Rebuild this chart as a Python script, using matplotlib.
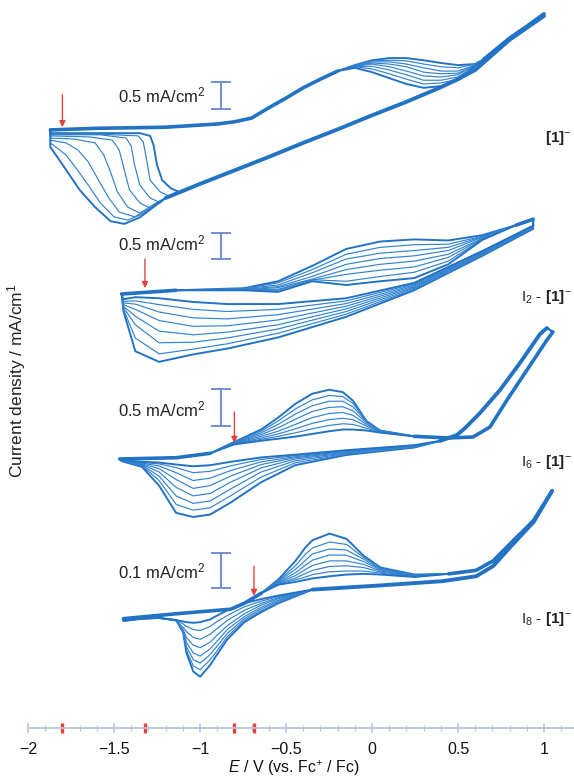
import numpy as np
import matplotlib
matplotlib.use('Agg')
import matplotlib.pyplot as plt

plt.rcParams['font.family'] = ['Liberation Sans', 'DejaVu Sans']
plt.rcParams['mathtext.fontset'] = 'custom'
plt.rcParams['mathtext.rm'] = 'Liberation Sans'
plt.rcParams['mathtext.it'] = 'Liberation Sans:italic'
plt.rcParams['mathtext.bf'] = 'Liberation Sans:bold'

# ---------------- [1]-  (mA/cm2, relative to start of sweep) ----------------
p1_fwd_E = [-1.87, -1.6, -1.2, -0.9, -0.8, -0.7, -0.6, -0.5, -0.4, -0.3, -0.2, 0.65, 0.7, 0.8, 0.9, 1.0]
p1_fwd_j = [0.02, 0.05, 0.07, 0.13, 0.17, 0.24, 0.43, 0.61, 0.80, 0.96, 1.11, 1.33, 1.46, 1.72, 1.94, 2.17]
p1_hump_E = [-0.1, 0.0, 0.1, 0.2, 0.3, 0.4, 0.5, 0.6]
p1_hump_j = [
    [1.22, 1.31, 1.35, 1.35, 1.31, 1.26, 1.22, 1.24],
    [1.22, 1.30, 1.31, 1.30, 1.24, 1.19, 1.17, 1.24],
    [1.20, 1.28, 1.28, 1.24, 1.17, 1.11, 1.11, 1.22],
    [1.20, 1.26, 1.24, 1.19, 1.09, 1.06, 1.07, 1.22],
    [1.20, 1.24, 1.19, 1.11, 1.02, 1.00, 1.04, 1.22],
    [1.19, 1.20, 1.13, 1.04, 0.94, 0.94, 1.00, 1.20],
    [1.19, 1.15, 1.06, 0.96, 0.87, 0.89, 0.96, 1.20],
    [1.17, 1.09, 0.98, 0.87, 0.80, 0.83, 0.94, 1.20],
]
p1_rev_E = [1.0, 0.9, 0.8, 0.7, 0.6, 0.5, 0.4, 0.2, 0.0, -0.2, -0.4, -0.6, -0.8, -1.0, -1.1, -1.2]
p1_rev_j = [2.13, 1.91, 1.69, 1.41, 1.13, 0.96, 0.81, 0.54, 0.29, 0.03, -0.22, -0.48, -0.73, -0.98, -1.11, -1.24]
p1_tail_E = [
    [-1.12, -1.17, -1.22, -1.25, -1.27, -1.29, -1.35, -1.58, -1.87],
    [-1.17, -1.23, -1.29, -1.31, -1.33, -1.36, -1.58, -1.87],
    [-1.23, -1.29, -1.35, -1.38, -1.40, -1.43, -1.58, -1.87],
    [-1.25, -1.29, -1.35, -1.41, -1.44, -1.47, -1.51, -1.64, -1.87],
    [-1.28, -1.35, -1.42, -1.48, -1.52, -1.56, -1.61, -1.73, -1.87],
    [-1.30, -1.38, -1.47, -1.53, -1.59, -1.65, -1.71, -1.78, -1.87],
    [-1.33, -1.42, -1.50, -1.58, -1.65, -1.72, -1.78, -1.87],
    [-1.35, -1.44, -1.52, -1.61, -1.70, -1.77, -1.83, -1.87],
]
p1_tail_j = [
    [-1.13, -1.06, -0.91, -0.63, -0.26, -0.09, -0.04, -0.04, -0.04],
    [-1.22, -1.13, -0.91, -0.54, -0.20, -0.09, -0.06, -0.06],
    [-1.33, -1.24, -1.00, -0.63, -0.28, -0.13, -0.07, -0.07],
    [-1.32, -1.43, -1.33, -1.09, -0.72, -0.35, -0.17, -0.11, -0.09],
    [-1.38, -1.52, -1.41, -1.13, -0.76, -0.44, -0.22, -0.15, -0.13],
    [-1.45, -1.59, -1.50, -1.24, -0.91, -0.57, -0.35, -0.22, -0.17],
    [-1.53, -1.65, -1.59, -1.33, -1.00, -0.69, -0.44, -0.22],
    [-1.60, -1.72, -1.67, -1.41, -1.09, -0.76, -0.48, -0.30],
]

# ---------------- I2 - [1]- ----------------
p2_fwd_E = [-1.455, -1.139, 0.838, 0.937]
p2_fwd_j = [0.00, 0.07, 1.30, 1.41]
p2_hump_E = [-0.744, -0.546, -0.348, -0.150, 0.047, 0.245, 0.443, 0.641]
p2_hump_j = [
    [0.11, 0.24, 0.53, 0.85, 0.99, 1.03, 1.01, 1.11],
    [0.10, 0.21, 0.46, 0.75, 0.88, 0.93, 0.94, 1.09],
    [0.10, 0.17, 0.40, 0.66, 0.77, 0.82, 0.88, 1.08],
    [0.09, 0.14, 0.33, 0.56, 0.67, 0.72, 0.82, 1.07],
    [0.08, 0.12, 0.28, 0.46, 0.56, 0.62, 0.75, 1.05],
    [0.08, 0.09, 0.26, 0.37, 0.45, 0.51, 0.69, 1.04],
    [0.07, 0.07, 0.27, 0.24, 0.33, 0.41, 0.62, 1.03],
    [0.07, 0.04, 0.24, 0.17, 0.24, 0.30, 0.56, 1.02],
]
p2_rev_E = []
p2_rev_j = []
p2_tail_E = [0.937, 0.641, 0.245, -0.150, -0.546, -0.842, -1.040, -1.238, -1.376, -1.446]
p2_tail_j = [
    [1.23, 0.72, 0.07, -0.43, -0.82, -1.03, -1.14, -1.28, -1.08, -0.31],
    [1.25, 0.73, 0.09, -0.38, -0.74, -0.94, -1.04, -1.13, -0.83, -0.28],
    [1.25, 0.75, 0.11, -0.33, -0.66, -0.83, -0.91, -0.92, -0.58, -0.25],
    [1.26, 0.76, 0.13, -0.28, -0.58, -0.72, -0.77, -0.70, -0.42, -0.23],
    [1.27, 0.77, 0.15, -0.23, -0.49, -0.60, -0.61, -0.50, -0.29, -0.20],
    [1.27, 0.78, 0.17, -0.18, -0.39, -0.47, -0.45, -0.34, -0.19, -0.17],
    [1.28, 0.80, 0.19, -0.13, -0.29, -0.33, -0.29, -0.20, -0.13, -0.14],
    [1.29, 0.81, 0.21, -0.08, -0.19, -0.19, -0.15, -0.08, -0.06, -0.10],
]

# ---------------- I6 - [1]- ----------------
p3_fwd_E = [-1.466, -1.139, -0.941, 0.245, 0.443, 0.587, 0.686, 0.785, 0.901, 1.017, 1.052]
p3_fwd_j = [0.00, 0.017, 0.076, 0.303, 0.281, 0.294, 0.428, 0.789, 1.190, 1.591, 1.698]
p3_hump_E = [-0.803, -0.645, -0.546, -0.447, -0.348, -0.249, -0.170, -0.111, -0.032, 0.047]
p3_hump_j = [
    [0.226, 0.394, 0.553, 0.735, 0.872, 0.926, 0.894, 0.781, 0.508, 0.381],
    [0.221, 0.371, 0.508, 0.667, 0.790, 0.849, 0.835, 0.744, 0.508, 0.381],
    [0.217, 0.349, 0.462, 0.599, 0.712, 0.772, 0.772, 0.699, 0.499, 0.376],
    [0.212, 0.326, 0.417, 0.531, 0.635, 0.690, 0.699, 0.644, 0.485, 0.371],
    [0.208, 0.303, 0.371, 0.462, 0.553, 0.608, 0.622, 0.585, 0.462, 0.367],
    [0.203, 0.281, 0.335, 0.403, 0.476, 0.526, 0.544, 0.526, 0.440, 0.362],
    [0.199, 0.262, 0.303, 0.349, 0.403, 0.449, 0.471, 0.462, 0.412, 0.358],
    [0.194, 0.244, 0.271, 0.299, 0.335, 0.371, 0.394, 0.394, 0.381, 0.353],
]
p3_rev_E = [1.017, 0.977, 0.860, 0.744, 0.628, 0.541, 0.494, 0.395]
p3_rev_j = [1.751, 1.671, 1.283, 0.922, 0.615, 0.414, 0.321, 0.241]
p3_tail_E = [0.245, -0.151, -0.447, -0.645, -0.823, -0.941, -1.040, -1.139, -1.238, -1.337, -1.456]
p3_tail_j = [
    [0.153, 0.053, -0.083, -0.311, -0.584, -0.743, -0.775, -0.720, -0.356, -0.106, -0.029],
    [0.158, 0.062, -0.051, -0.242, -0.493, -0.652, -0.684, -0.606, -0.288, -0.092, -0.029],
    [0.162, 0.071, -0.024, -0.174, -0.402, -0.561, -0.593, -0.493, -0.229, -0.083, -0.029],
    [0.167, 0.080, -0.001, -0.120, -0.311, -0.461, -0.493, -0.379, -0.174, -0.074, -0.024],
    [0.171, 0.090, 0.017, -0.074, -0.229, -0.356, -0.393, -0.274, -0.129, -0.065, -0.024],
    [0.176, 0.099, 0.030, -0.038, -0.156, -0.256, -0.288, -0.183, -0.092, -0.056, -0.020],
    [0.180, 0.108, 0.044, -0.006, -0.092, -0.165, -0.183, -0.115, -0.065, -0.047, -0.020],
    [0.185, 0.117, 0.058, 0.021, -0.038, -0.083, -0.097, -0.074, -0.047, -0.038, -0.015],
]

# ---------------- I8 - [1]- ----------------
p4_fwd_E = [-1.445, -1.138, -0.821, -0.742, -0.643, 0.446, 0.605, 0.704, 0.803, 0.902, 0.941, 1.047]
p4_fwd_j = [0.001, 0.015, 0.028, 0.045, 0.074, 0.129, 0.139, 0.166, 0.215, 0.263, 0.283, 0.366]
p4_hump_E = [-0.544, -0.445, -0.386, -0.346, -0.247, -0.148, -0.049, 0.050, 0.248]
p4_hump_j = [
    [0.113, 0.166, 0.205, 0.225, 0.244, 0.229, 0.181, 0.147, 0.127],
    [0.110, 0.152, 0.186, 0.203, 0.220, 0.213, 0.176, 0.145, 0.126],
    [0.108, 0.142, 0.168, 0.186, 0.200, 0.197, 0.171, 0.142, 0.125],
    [0.106, 0.132, 0.154, 0.168, 0.183, 0.182, 0.164, 0.140, 0.124],
    [0.104, 0.124, 0.142, 0.153, 0.166, 0.166, 0.156, 0.137, 0.123],
    [0.102, 0.117, 0.130, 0.139, 0.150, 0.152, 0.147, 0.134, 0.122],
    [0.100, 0.112, 0.120, 0.127, 0.135, 0.137, 0.137, 0.131, 0.121],
    [0.098, 0.106, 0.112, 0.116, 0.122, 0.127, 0.129, 0.127, 0.120],
]
p4_rev_E = [1.047, 0.941, 0.803, 0.704, 0.605, 0.407, 0.050, -0.346]
p4_rev_j = [0.366, 0.278, 0.205, 0.151, 0.122, 0.108, 0.096, 0.084]
p4_tail_E = [-0.544, -0.643, -0.742, -0.841, -0.900, -0.940, -0.999, -1.039, -1.079, -1.098,
             -1.138, -1.237, -1.336, -1.445]
p4_tail_j = [
    [0.045, 0.020, -0.009, -0.058, -0.101, -0.131, -0.165, -0.150, -0.097, -0.038, -0.004, 0.003, 0.001, -0.006],
    [0.047, 0.024, -0.004, -0.050, -0.090, -0.116, -0.145, -0.134, -0.089, -0.038, -0.004, 0.003, 0.001, -0.006],
    [0.051, 0.029, 0.001, -0.041, -0.077, -0.101, -0.126, -0.116, -0.079, -0.036, -0.004, 0.003, 0.001, -0.006],
    [0.054, 0.034, 0.007, -0.030, -0.063, -0.085, -0.106, -0.097, -0.067, -0.033, -0.005, 0.003, 0.001, -0.005],
    [0.058, 0.040, 0.015, -0.019, -0.046, -0.066, -0.082, -0.075, -0.053, -0.031, -0.005, 0.003, 0.001, -0.005],
    [0.061, 0.045, 0.025, -0.004, -0.027, -0.043, -0.058, -0.053, -0.036, -0.024, -0.005, 0.003, 0.001, -0.005],
    [0.064, 0.051, 0.035, 0.010, -0.007, -0.021, -0.033, -0.030, -0.021, -0.014, -0.004, 0.003, 0.001, -0.004],
    [0.067, 0.057, 0.045, 0.025, 0.010, -0.001, -0.009, -0.011, -0.009, -0.007, -0.003, 0.003, 0.001, -0.004],
]

# sweep start potentials (red arrows / red marks on the axis)
start_E = [-1.80, -1.32, -0.80, -0.686]
scale_bars = [0.5, 0.5, 0.5, 0.1]
names = [r'$\mathbf{[1]}^{-}$', r'I$_2$ - $\mathbf{[1]}^{-}$',
         r'I$_6$ - $\mathbf{[1]}^{-}$', r'I$_8$ - $\mathbf{[1]}^{-}$']
tick_vals = [-2, -1.5, -1, -0.5, 0, 0.5, 1]
tick_labels = ['\u22122', '\u22121.5', '\u22121', '\u22120.5', '0', '0.5', '1']


def build_cycles(fwd_E, fwd_j, hump_E, hump_j, rev_E, rev_j, tail_E, tail_j):
    fwd_E, fwd_j = np.asarray(fwd_E, float), np.asarray(fwd_j, float)
    rev_E, rev_j = np.asarray(rev_E, float), np.asarray(rev_j, float)
    hE = np.asarray(hump_E, float)
    lo = fwd_E < hE[0]
    hi = fwd_E > hE[-1]
    loops = []
    for k in range(len(hump_j)):
        tE = np.asarray(tail_E[k] if isinstance(tail_E[0], list) else tail_E, float)
        tj = np.asarray(tail_j[k], float)
        keep = rev_E > tE[0]
        E = np.concatenate([fwd_E[lo], hE, fwd_E[hi], rev_E[keep], tE, fwd_E[:1]])
        j = np.concatenate([fwd_j[lo], hump_j[k], fwd_j[hi], rev_j[keep], tj, fwd_j[:1]])
        loops.append((E, j))
    common = (fwd_E[lo], fwd_j[lo], fwd_E[hi], fwd_j[hi])
    return loops, common


panels = [
    build_cycles(p1_fwd_E, p1_fwd_j, p1_hump_E, p1_hump_j, p1_rev_E, p1_rev_j, p1_tail_E, p1_tail_j),
    build_cycles(p2_fwd_E, p2_fwd_j, p2_hump_E, p2_hump_j, p2_rev_E, p2_rev_j, p2_tail_E, p2_tail_j),
    build_cycles(p3_fwd_E, p3_fwd_j, p3_hump_E, p3_hump_j, p3_rev_E, p3_rev_j, p3_tail_E, p3_tail_j),
    build_cycles(p4_fwd_E, p4_fwd_j, p4_hump_E, p4_hump_j, p4_rev_E, p4_rev_j, p4_tail_E, p4_tail_j),
]
common_rev = [(p1_rev_E, p1_rev_j), (p2_rev_E, p2_rev_j), (p3_rev_E, p3_rev_j), (p4_rev_E, p4_rev_j)]

# layout: pixel row of j=0 and pixels per mA/cm2 for each panel
W, H = 574, 781
rows = [131, 294, 459, 619]
px_per_unit = [54, 53, 74.8, 350]
bar_top = [0.90, 1.157, 0.94, 0.189]
text_j = [0.65, 0.962, 0.668, 0.137]
arrow_tip = [0.07, 0.11, 0.214, 0.066]
arrow_tail = [0.67, 0.66, 0.628, 0.151]
name_j = [-0.13, -0.06, -0.04, 0.0]

XLO, XHI = -2 - 28 / 172, 1 + 30 / 172
BLUE = '#2373c4'
THIN = '#3282cf'
BAR = '#6c8fd2'
RED = '#e8413c'

fig = plt.figure(figsize=(W / 100, H / 100), dpi=100)

for i, (loops, common) in enumerate(panels):
    ax = fig.add_axes([0, 0, 1, 1])
    ax.set_xlim(XLO, XHI)
    s, y0 = px_per_unit[i], rows[i]
    ax.set_ylim((y0 - H) / s, y0 / s)
    ax.axis('off')
    ax.patch.set_alpha(0)

    for k, (E, j) in enumerate(loops):
        edge = k in (0, len(loops) - 1)
        ax.plot(E, j, color=BLUE if edge else THIN, lw=1.4 if edge else 0.85,
                solid_joinstyle='round')
    lE, lj, rE, rj = common
    ax.plot(lE, lj, color=BLUE, lw=2.6, solid_capstyle='round')
    ax.plot(rE, rj, color=BLUE, lw=2.6, solid_capstyle='round')
    ax.plot(common_rev[i][0], common_rev[i][1], color=BLUE, lw=2.8, solid_capstyle='round')

    # scale bar
    bx, bt, bl = -0.878, bar_top[i], scale_bars[i]
    ax.plot([bx, bx], [bt, bt - bl], color=BAR, lw=1.4)
    ax.plot([bx - 0.053, bx + 0.053], [bt, bt], color=BAR, lw=1.4)
    ax.plot([bx - 0.053, bx + 0.053], [bt - bl, bt - bl], color=BAR, lw=1.4)
    ax.text(-0.97, text_j[i], '%g mA/cm$^2$' % bl, ha='right', va='center',
            fontsize=12, color='#222222')

    # sweep start arrow
    ax.annotate('', xy=(start_E[i], arrow_tip[i]), xytext=(start_E[i], arrow_tail[i]),
                arrowprops=dict(arrowstyle='-|>', color=RED, lw=1.0, mutation_scale=9,
                                shrinkA=0, shrinkB=0))
    ax.text(1.16, name_j[i], names[i], ha='right', va='center', fontsize=11, color='#222222')

# potential axis
axb = fig.add_axes([0, (H - 728) / H, 1, 0.001])
axb.set_xlim(XLO, XHI)
axb.set_ylim(0, 1)
axb.patch.set_alpha(0)
for side in ['left', 'right', 'top']:
    axb.spines[side].set_visible(False)
axb.spines['bottom'].set_color('#b7c4e0')
axb.spines['bottom'].set_linewidth(1.3)
axb.spines['bottom'].set_bounds(-2, XHI)
axb.set_yticks([])
axb.set_xticks(tick_vals)
axb.set_xticklabels(tick_labels)
axb.set_xticks(np.arange(-2, 1.15, 0.1), minor=True)
axb.tick_params(axis='x', which='major', direction='inout', length=7, width=1.1,
                color='#b7c4e0', labelsize=11.5, pad=6.5, labelcolor='#111111')
axb.tick_params(axis='x', which='minor', direction='inout', length=4, width=0.9, color='#b7c4e0')
axb.plot(start_E, [0] * len(start_E), ls='none', marker='|', ms=7, mew=2.4, color=RED, clip_on=False)

fig.text(294 / W, 3 / H, r'$E$ / V (vs. Fc$^{+}$ / Fc)', ha='center', va='bottom',
         fontsize=11.5, color='#111111')
fig.text(17 / W, 1 - 381 / H, 'Current density / mA/cm$^{1}$', rotation=90, ha='center',
         va='center', fontsize=12.5, color='#222222')

fig.savefig('out.png', dpi=100)
